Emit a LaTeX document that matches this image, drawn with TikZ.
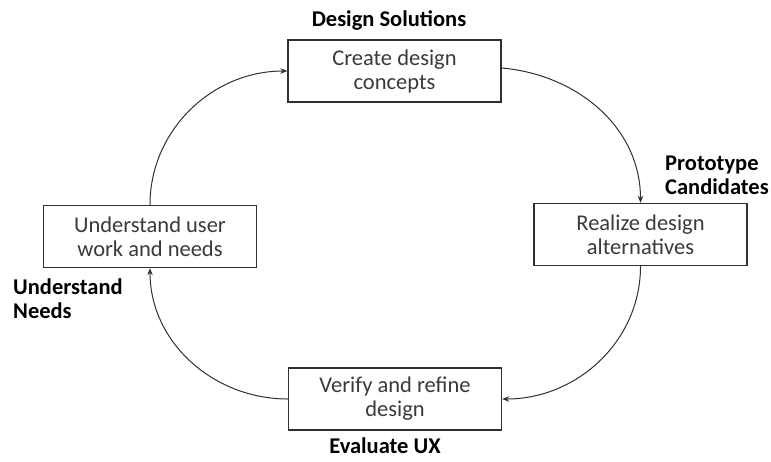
\documentclass[tikz,border=0pt]{standalone}
\usepackage{fontspec}
\setmainfont{Carlito}
\usetikzlibrary{arrows.meta}
\definecolor{boxtext}{HTML}{3A3A3A}
\definecolor{lineclr}{HTML}{303030}
\tikzset{
  stagebox/.style={draw=lineclr, line width=1.4pt, minimum width=213pt, minimum height=62pt,
    align=center, font=\fontsize{22.5}{24}\selectfont, text=boxtext, inner sep=0pt},
  phaselabel/.style={font=\fontsize{22.5}{24}\selectfont\bfseries, text=black, inner sep=0pt},
  flow/.style={draw=lineclr, line width=1pt, -{Stealth[length=7pt,width=5.5pt]}}
}
\begin{document}
\begin{tikzpicture}[x=1pt,y=-1pt]
\useasboundingbox (0,0) rectangle (771,461);
\node[stagebox] (create) at (394.5,71) {Create design\\concepts};
\node[stagebox] (realize) at (640.5,234.5) {Realize design\\alternatives};
\node[stagebox] (understand) at (150,236.5) {Understand user\\work and needs};
\node[stagebox] (verify) at (395,399) {Verify and refine\\design};

\node[phaselabel] (lsol) at (389,20) {Design Solutions};
\node[phaselabel, align=left, anchor=west] (lproto) at (665,175) {Prototype\\Candidates};
\node[phaselabel, align=left, anchor=west] (lneeds) at (13,299) {Understand\\Needs};
\node[phaselabel] (lux) at (385,446) {Evaluate UX};

\draw[flow] ([yshift=3pt]create.east) to[out=-5,in=90] (realize.north);
\draw[flow] (realize.south) to[out=-90,in=0] (verify.east);
\draw[flow] (verify.west) to[out=180,in=-90] (understand.south);
\draw[flow] (understand.north) to[out=90,in=180] (create.west);
\end{tikzpicture}
\end{document}
